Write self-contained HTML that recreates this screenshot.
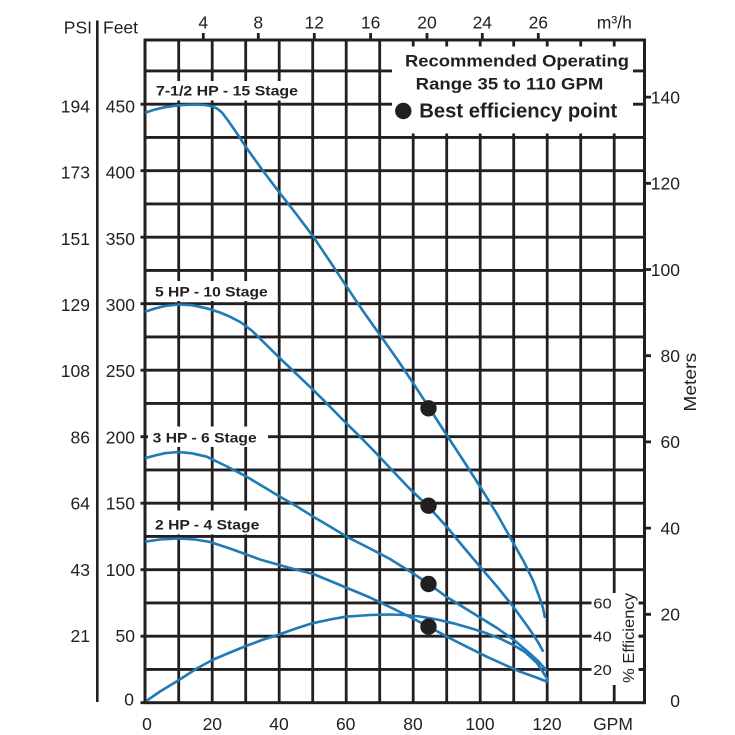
<!DOCTYPE html>
<html><head><meta charset="utf-8"><style>
html,body{margin:0;padding:0;background:#fff;}
svg{display:block;}
text{font-family:"Liberation Sans",Arial,sans-serif;fill:#231f20;}
.b{font-weight:bold;}
</style></head><body>
<svg width="735" height="735" viewBox="0 0 735 735" xmlns="http://www.w3.org/2000/svg">
<rect width="735" height="735" fill="#fff"/>
<!-- grid -->
<g stroke="#231f20" stroke-width="2.8" fill="none">
<path d="M178.7 40V702.7M212.2 40V702.7M245.7 40V702.7M279.2 40V702.7M312.7 40V702.7M346.2 40V702.7M379.7 40V702.7M413.2 40V702.7M446.7 40V702.7M480.2 40V702.7M513.7 40V702.7M547.2 40V702.7M580.7 40V702.7M614.2 40V702.7"/>
<path d="M145 669.45H644.5M145 636.2H644.5M145 602.95H644.5M145 569.7H644.5M145 536.45H644.5M145 503.2H644.5M145 469.95H644.5M145 436.7H644.5M145 403.45H644.5M145 370.2H644.5M145 336.95H644.5M145 303.7H644.5M145 270.45H644.5M145 237.2H644.5M145 203.95H644.5M145 170.7H644.5M145 137.45H644.5M145 104.2H644.5M145 70.95H644.5"/>
<!-- feet ticks -->
<path d="M140.5 104.2H145M140.5 170.7H145M140.5 237.2H145M140.5 303.7H145M140.5 370.2H145M140.5 436.7H145M140.5 503.2H145M140.5 569.7H145M140.5 636.2H145M140.5 702.7H145"/>
<!-- top ticks -->
<path d="M203.3 33V40M258.3 33V40M314.3 33V40M370.6 33V40M427 33V40M482.3 33V40M538.3 33V40"/>
<!-- meters ticks -->
<path d="M644.5 97.1H651M644.5 183.3H651M644.5 269.5H651M644.5 355.7H651M644.5 441.9H651M644.5 528.1H651M644.5 614.3H651"/>
</g>
<!-- white label boxes -->
<g fill="#fff">
<rect x="392" y="46.5" width="241" height="87"/>
<rect x="151" y="81" width="151" height="19.5"/>
<rect x="148" y="281" width="124" height="20"/>
<rect x="148" y="426.5" width="120" height="20.5"/>
<rect x="150" y="510.5" width="115" height="24"/>
<rect x="591.5" y="593" width="47" height="92"/>
</g>
<!-- border -->
<g stroke="#231f20" fill="none">
<rect x="145" y="40" width="499.5" height="662.7" stroke-width="3"/>
<path d="M97.3 20.5V702" stroke-width="2.6"/>
<!-- efficiency ticks -->
<path d="M638.5 602.95H645M638.5 636.2H645M638.5 669.45H645" stroke-width="2.8"/>
</g>
<!-- curves -->
<g stroke="#1f7ab5" stroke-width="2.6" fill="none" stroke-linejoin="round" stroke-linecap="butt">
<polyline points="145,112.7 155,109.5 165,107.2 179,105.2 195,104.5 205,105 212,106.3 217,108.5 222,112.5 228,120.5 236,132 245.7,146.7 262,169.5 280,193.3 297,215 313.3,236.7 330,261.5 346.7,286.7 363,311 380,335 397,359 413.3,383.3 428.3,406.5 448.3,437.5 464,461.5 480,486.5 497,514 513.3,543 524,562 533.3,581 539,596 543,608 545,618"/>
<polyline points="145,311.7 155,308.5 165,306 178.3,304.5 192,305.2 206.7,308.3 220,312.5 230,316.7 241,322.5 251.7,330.5 265,343.5 280,358.3 296.5,374 313.3,390 326.7,403.3 343,420 360,436.7 375,452 390,468 409,488 428.3,506.5 446.7,526.7 463,546.5 480,566.7 497,586.5 513.3,606.7 528,627 538,642 543.3,651.7"/>
<polyline points="145,458.3 155,455.5 165,453.2 178.3,452 192,453.3 206.7,456.7 225,465.5 246.7,476.7 263,486.5 280,496.7 297,506.5 313.3,516.7 330,526.5 346.7,536.7 370,548.5 390,559 410,571.5 428.3,583.5 446.7,597 463,607 480,617.5 497,628 513.3,639.5 527,651 538,661 547,671"/>
<polyline points="145,541.7 160,539.5 178.3,538.5 195,539.5 210,542 230,548.5 260,559.5 290,568 313.3,574 340,585 370,597.5 395,609.5 410,617 428.3,626.5 453.3,640 486.7,656.7 520,671.7 535,677 548,682"/>
<polyline points="147,700.5 160,691.5 179,680 196.7,668.5 212.3,660 230,652.5 246,646 262,640 279,634.5 296,628.5 312.3,623.3 330,619.5 345.7,616.7 370,615 390,614.5 405,615 420,616.5 437,619.5 453.3,623.3 470,628 486.7,633.3 500,638.5 513.3,645 525,652 537,663 548,680"/>
</g>
<!-- best efficiency dots -->
<g fill="#231f20">
<circle cx="428.5" cy="408.3" r="8.2"/>
<circle cx="428.5" cy="505.7" r="8.2"/>
<circle cx="428.5" cy="584" r="8.2"/>
<circle cx="428.5" cy="626.7" r="8.2"/>
<circle cx="403.3" cy="111" r="8.2"/>
</g>
<!-- curve labels -->
<g class="b" font-size="14">
<text x="156" y="95.7" textLength="142" lengthAdjust="spacingAndGlyphs">7-1/2 HP - 15 Stage</text>
<text x="155" y="296.7" textLength="112.7" lengthAdjust="spacingAndGlyphs">5 HP - 10 Stage</text>
<text x="152.7" y="442.7" textLength="104" lengthAdjust="spacingAndGlyphs">3 HP - 6 Stage</text>
<text x="155" y="529.3" textLength="104.3" lengthAdjust="spacingAndGlyphs">2 HP - 4 Stage</text>
</g>
<!-- legend -->
<text class="b" x="405" y="66.7" font-size="17" textLength="224" lengthAdjust="spacingAndGlyphs">Recommended Operating</text>
<text class="b" x="415.7" y="89.3" font-size="17" textLength="187.6" lengthAdjust="spacingAndGlyphs">Range 35 to 110 GPM</text>
<text class="b" x="419.3" y="117.3" font-size="20" textLength="198" lengthAdjust="spacingAndGlyphs">Best efficiency point</text>
<!-- left axis labels -->
<g font-size="17.5" text-anchor="end">
<text x="92" y="33.3">PSI</text>
<text x="90" y="112.4">194</text>
<text x="90" y="178.6">173</text>
<text x="90" y="244.8">151</text>
<text x="90" y="311">129</text>
<text x="90" y="377.2">108</text>
<text x="90" y="443.4">86</text>
<text x="90" y="509.6">64</text>
<text x="90" y="575.8">43</text>
<text x="90" y="642">21</text>
<text x="135" y="112.4">450</text>
<text x="135" y="178.6">400</text>
<text x="135" y="244.8">350</text>
<text x="135" y="311">300</text>
<text x="135" y="377.2">250</text>
<text x="135" y="443.4">200</text>
<text x="135" y="509.6">150</text>
<text x="135" y="575.8">100</text>
<text x="135" y="642">50</text>
<text x="134" y="705.5">0</text>
</g>
<text x="103" y="33.3" font-size="17.5">Feet</text>
<!-- top axis labels -->
<g font-size="17.5" text-anchor="middle">
<text x="203.3" y="28.3">4</text>
<text x="258.3" y="28.3">8</text>
<text x="314.3" y="28.3">12</text>
<text x="370.6" y="28.3">16</text>
<text x="427" y="28.3">20</text>
<text x="482.3" y="28.3">24</text>
<text x="538.3" y="28.3">26</text>
<text x="614.3" y="28.3">m³/h</text>
</g>
<!-- bottom axis labels -->
<g font-size="17.5" text-anchor="middle">
<text x="147" y="730">0</text>
<text x="212.3" y="730">20</text>
<text x="279" y="730">40</text>
<text x="345.7" y="730">60</text>
<text x="413" y="730">80</text>
<text x="480" y="730">100</text>
<text x="547" y="730">120</text>
<text x="613" y="730">GPM</text>
</g>
<!-- right meters labels -->
<g font-size="17.5" text-anchor="end">
<text x="680" y="103.4">140</text>
<text x="680" y="189.6">120</text>
<text x="680" y="275.8">100</text>
<text x="680" y="362">80</text>
<text x="680" y="448.2">60</text>
<text x="680" y="534.4">40</text>
<text x="680" y="620.6">20</text>
<text x="680" y="706.8">0</text>
</g>
<text font-size="17.5" text-anchor="middle" transform="translate(696,382.3) rotate(-90)" textLength="58.7" lengthAdjust="spacingAndGlyphs">Meters</text>
<!-- efficiency labels -->
<g font-size="15">
<text x="593.3" y="608.3" textLength="18.4" lengthAdjust="spacingAndGlyphs">60</text>
<text x="593.3" y="641.5" textLength="18.4" lengthAdjust="spacingAndGlyphs">40</text>
<text x="593.3" y="674.8" textLength="18.4" lengthAdjust="spacingAndGlyphs">20</text>
</g>
<text font-size="15.5" text-anchor="middle" transform="translate(634,638) rotate(-90)" textLength="90" lengthAdjust="spacingAndGlyphs">% Efficiency</text>
</svg>
</body></html>
